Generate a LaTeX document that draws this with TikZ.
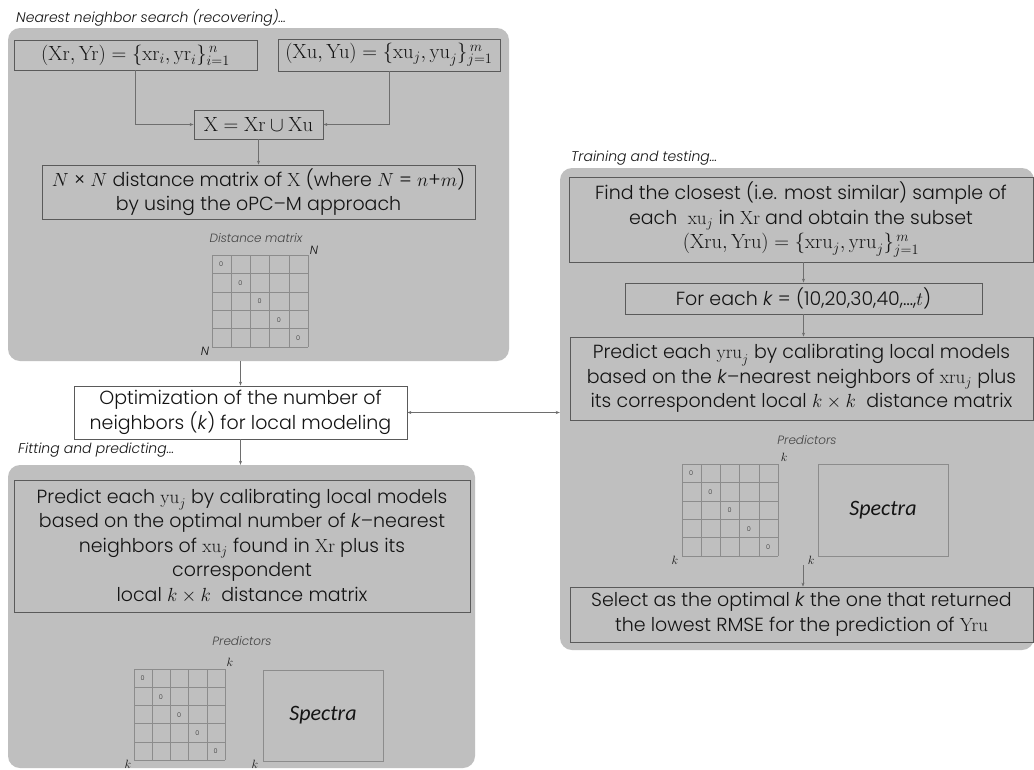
\RequirePackage{fix-cm}
\documentclass[tikz,border=0pt]{standalone}
\usepackage[no-math]{fontspec}
\setmainfont{Poppins}[UprightFont=* Light, ItalicFont=* Light Italic, BoldFont=* Medium]
\newfontfamily\spfont{Carlito}
\usetikzlibrary{arrows.meta}
\definecolor{panelgray}{HTML}{BFBFBF}
\definecolor{boxline}{HTML}{5A5A5A}
\definecolor{arrgray}{HTML}{6E6E6E}
\definecolor{gridgray}{HTML}{8C8C8C}
\definecolor{txt}{HTML}{141414}
\tikzset{
  panel/.style={fill=panelgray, draw=none, rounded corners=12pt, inner sep=0pt},
  box/.style={draw=boxline, line width=0.8pt, align=center, inner sep=2pt, text=txt,
     font=\fontsize{19}{24.5}\selectfont},
  mbox/.style={box, font=\fontsize{20.5}{24.5}\selectfont},
  arr/.style={draw=arrgray, line width=0.6pt, -{Stealth[length=4pt,width=3pt]}},
  darr/.style={draw=arrgray, line width=0.6pt, {Stealth[length=4pt,width=3pt]}-{Stealth[length=4pt,width=3pt]}},
  head/.style={anchor=west, inner sep=0pt, text=txt, font=\fontsize{14}{16}\selectfont\itshape},
  small/.style={inner sep=0pt, text=txt!80, font=\fontsize{12}{14}\selectfont\itshape},
  kl/.style={inner sep=0pt, text=txt, font=\fontsize{12}{13}\selectfont},
  gridl/.style={draw=gridgray, line width=0.6pt},
  zero/.style={inner sep=0pt, text=txt!85, font=\fontsize{6.5}{7}\selectfont},
  specbox/.style={draw=gridgray, line width=0.7pt, inner sep=0pt, font=\fontsize{22}{24}\selectfont\spfont\itshape, text=txt}
}
\newcommand{\dmat}[4]{%
  \foreach \i in {0,...,5} {
    \draw[gridl] (#1+\i*#3, #2) -- (#1+\i*#3, #2+5*#4);
    \draw[gridl] (#1, #2+\i*#4) -- (#1+5*#3, #2+\i*#4);
  }
  \foreach \i in {0,...,4} {
    \node[zero] at (#1+\i*#3+0.48*#3, #2+\i*#4+0.52*#4) {0};
  }
}
\begin{document}
\begin{tikzpicture}[x=1pt,y=-1pt]
\useasboundingbox (0,0) rectangle (1034,769);
\fill[white] (0,0) rectangle (1034,769);

% panels
\node[panel, minimum width=501pt, minimum height=333pt] (p1) at (258.5,194.5) {};
\node[panel, minimum width=474pt, minimum height=482pt] (p2) at (797,409) {};
\node[panel, minimum width=467pt, minimum height=303pt] (p3) at (241.5,616.5) {};

% headings
\node[head] (h1) at (16,18) {Nearest neighbor search (recovering)…};
\node[head] (h2) at (571,158) {Training and testing…};
\node[head] (h3) at (18,450) {Fitting and predicting…};

% top panel
\node[mbox, minimum width=243pt, minimum height=30pt] (xr) at (135.5,55)
  {$(\mathrm{Xr},\mathrm{Yr})=\{\mathrm{xr}_i,\mathrm{yr}_i\}_{i=1}^{\,n}$};
\node[mbox, minimum width=222pt, minimum height=32pt] (xu) at (389,55)
  {$(\mathrm{Xu},\mathrm{Yu})=\{\mathrm{xu}_j,\mathrm{yu}_j\}_{j=1}^{\,m}$};
\node[mbox, minimum width=129pt, minimum height=29pt] (xx) at (258.5,124.5)
  {$\mathrm{X}=\mathrm{Xr}\cup\mathrm{Xu}$};
\node[box, minimum width=433pt, minimum height=54pt] (dist) at (258.5,192)
  {$N$ × $N$ distance matrix of $\mathrm{X}$ (where $N$ = $n$+$m$)\\by using the oPC–M approach};
\node[small] (dmlab) at (256,238) {Distance matrix};
\dmat{212}{255}{19.2}{18.4}
\node[kl] (n1) at (314,250) {\textit{N}};
\node[kl] (n2) at (205,351) {\textit{N}};

\draw[arr] (xr.south) |- (xx.west);
\draw[arr] (xu.south) |- (xx.east);
\draw[arr] (xx.south) -- (dist.north);

% optimization
\node[box, fill=white, minimum width=333pt, minimum height=53pt] (opt) at (240.5,412.5)
  {Optimization of the number of\\neighbors (\textit{k}) for local modeling};
\draw[arr] (p1.south -| opt.north) -- (opt.north);
\draw[arr] (opt.south) -- (opt.south |- p3.north);
\draw[darr] (opt.east) -- (opt.east -| p2.west);

% bottom-left panel
\node[box, minimum width=456pt, minimum height=132pt] (pb) at (242,546)
  {Predict each $\mathrm{yu}_j$ by calibrating local models\\based on the optimal number of \textit{k}–nearest\\neighbors of $\mathrm{xu}_j$ found in $\mathrm{Xr}$ plus its\\correspondent\\local $k\times k$\ \ distance matrix};
\node[small] (plb) at (242,641) {Predictors};
\dmat{134}{669}{18.2}{18.2}
\node[kl] (k1) at (230,662) {$k$};
\node[kl] (k2) at (128,764) {$k$};
\node[specbox, minimum width=120pt, minimum height=91pt] (spb) at (323,715.5) {Spectra};
\node[kl] (k3) at (255,764) {$k$};

% right panel
\node[box, minimum width=464pt, minimum height=85pt] (find) at (801,219.5)
  {Find the closest (i.e. most similar) sample of\\each\ \ $\mathrm{xu}_j$ in $\mathrm{Xr}$ and obtain the subset\\{\fontsize{20.5}{24.5}\selectfont$(\mathrm{Xru},\mathrm{Yru})=\{\mathrm{xru}_j,\mathrm{yru}_j\}_{j=1}^{\,m}$}};
\node[box, minimum width=357pt, minimum height=31pt] (fe) at (803.5,298.5)
  {For each \textit{k} = (10,20,30,40,…,$t$)};
\node[box, minimum width=463pt, minimum height=83pt] (pr) at (801.5,378.5)
  {Predict each $\mathrm{yru}_j$ by calibrating local models\\based on the \textit{k}–nearest neighbors of $\mathrm{xru}_j$ plus\\its correspondent local $k\times k$\ \ distance matrix};
\node[small] (plr) at (807,440) {Predictors};
\dmat{682}{464}{19.2}{18.4}
\node[kl] (k4) at (784,457) {$k$};
\node[kl] (k5) at (675,560) {$k$};
\node[specbox, minimum width=130pt, minimum height=92pt] (spr) at (883,510) {Spectra};
\node[kl] (k6) at (811,560) {$k$};
\node[box, minimum width=463pt, minimum height=55pt] (sel) at (801.5,614.5)
  {Select as the optimal \textit{k} the one that returned\\the lowest RMSE for the prediction of $\mathrm{Yru}$};
\coordinate (s0) at (803,565);

\draw[arr] (find.south -| fe.north) -- (fe.north);
\draw[arr] (fe.south) -- (fe.south |- pr.north);
\draw[arr] (s0) -- (s0 |- sel.north);
\end{tikzpicture}
\end{document}
